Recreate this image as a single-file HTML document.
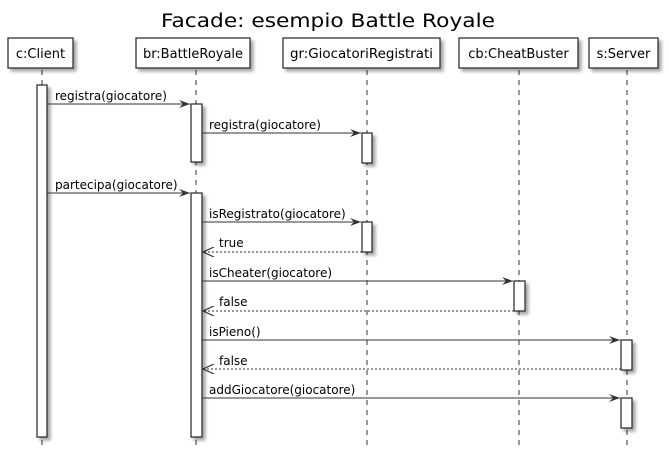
<!DOCTYPE html>
<html><head><meta charset="utf-8"><style>body{margin:0;background:#fff}</style></head><body>
<svg width="668" height="457" xmlns="http://www.w3.org/2000/svg" font-family="DejaVu Sans, Liberation Sans, sans-serif">
<defs>
<filter id="sh" x="-10%" y="-10%" width="130%" height="140%"><feDropShadow dx="3" dy="3" stdDeviation="1.5" flood-color="#000" flood-opacity="0.35"/></filter>
<marker id="a" markerWidth="12" markerHeight="10" refX="11" refY="5" orient="auto" markerUnits="userSpaceOnUse"><path d="M0,1 L11,5 L0,9 L4,5 Z" fill="#333"/></marker>
<marker id="o" markerWidth="12" markerHeight="10" refX="11" refY="5" orient="auto" markerUnits="userSpaceOnUse"><path d="M0,0 L11,5 L0,10" fill="none" stroke="#333" stroke-width="1.2"/></marker>
</defs>
<text x="328" y="27" font-size="18.5" text-anchor="middle" fill="#000" textLength="334" lengthAdjust="spacingAndGlyphs">Facade: esempio Battle Royale</text>
<g stroke="#333" stroke-width="1" stroke-dasharray="5,5">
<line x1="42" y1="70" x2="42" y2="448"/><line x1="196" y1="70" x2="196" y2="448"/>
<line x1="367" y1="70" x2="367" y2="448"/><line x1="519" y1="70" x2="519" y2="448"/>
<line x1="627" y1="70" x2="627" y2="448"/></g>
<g fill="#fff" stroke="#222" stroke-width="1.2" filter="url(#sh)">
<rect x="8" y="38" width="65" height="30"/><rect x="136" y="38" width="114" height="30"/>
<rect x="283" y="38" width="157" height="30"/><rect x="459" y="38" width="119" height="30"/>
<rect x="589" y="38" width="69" height="30"/></g>
<g font-size="13" text-anchor="middle" fill="#000">
<text x="40.5" y="58">c:Client</text><text x="193" y="58">br:BattleRoyale</text>
<text x="361.5" y="58" textLength="143" lengthAdjust="spacingAndGlyphs">gr:GiocatoriRegistrati</text><text x="518.5" y="58">cb:CheatBuster</text>
<text x="623.5" y="58">s:Server</text></g>
<g fill="#fff" stroke="#222" stroke-width="1.2" filter="url(#sh)">
<rect x="37" y="85" width="10" height="352"/>
<rect x="191" y="104" width="11" height="58"/><rect x="191" y="193" width="11" height="244"/>
<rect x="362" y="133" width="10" height="30"/><rect x="362" y="222" width="10" height="30"/>
<rect x="514" y="281" width="11" height="30"/>
<rect x="621" y="340" width="11" height="30"/><rect x="621" y="398" width="11" height="30"/></g>
<g stroke="#333" stroke-width="1.1">
<line x1="47" y1="104" x2="190" y2="104" marker-end="url(#a)"/>
<line x1="202" y1="133" x2="361" y2="133" marker-end="url(#a)"/>
<line x1="47" y1="193" x2="190" y2="193" marker-end="url(#a)"/>
<line x1="202" y1="222" x2="361" y2="222" marker-end="url(#a)"/>
<line x1="362" y1="252" x2="203" y2="252" stroke-dasharray="2,2" marker-end="url(#o)"/>
<line x1="202" y1="281" x2="513" y2="281" marker-end="url(#a)"/>
<line x1="514" y1="311" x2="203" y2="311" stroke-dasharray="2,2" marker-end="url(#o)"/>
<line x1="202" y1="340" x2="620" y2="340" marker-end="url(#a)"/>
<line x1="621" y1="369" x2="203" y2="369" stroke-dasharray="2,2" marker-end="url(#o)"/>
<line x1="202" y1="398" x2="620" y2="398" marker-end="url(#a)"/></g>
<g font-size="12" fill="#000">
<text x="55" y="100">registra(giocatore)</text>
<text x="209" y="129">registra(giocatore)</text>
<text x="55" y="189">partecipa(giocatore)</text>
<text x="209" y="218">isRegistrato(giocatore)</text>
<text x="219" y="247">true</text>
<text x="209" y="277">isCheater(giocatore)</text>
<text x="219" y="306">false</text>
<text x="209" y="336">isPieno()</text>
<text x="219" y="365">false</text>
<text x="209" y="394">addGiocatore(giocatore)</text></g>
</svg>
</body></html>
